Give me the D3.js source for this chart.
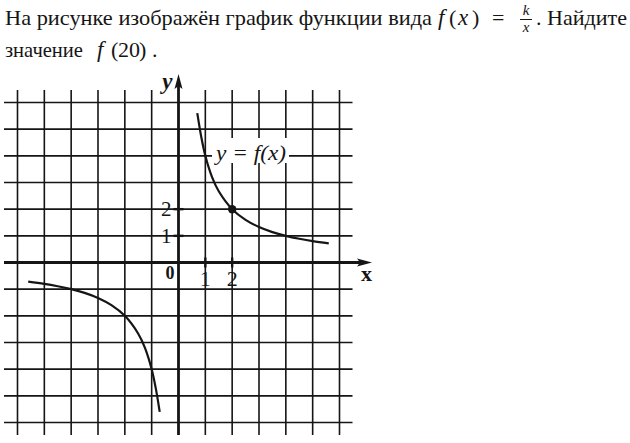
<!DOCTYPE html>
<html><head><meta charset="utf-8">
<script src="https://cdn.jsdelivr.net/npm/d3@7"></script>
<style>
html,body{margin:0;padding:0;background:#fff;}
svg{display:block;}
</style></head>
<body>
<svg id="c" width="630" height="443"></svg>
<script>
// ---- data ----
const gridTicksX = [-6,-5,-4,-3,-2,-1,1,2,3,4,5,6];
const gridTicksY = [-6,-5,-4,-3,-2,-1,1,2,3,4,5,6];
const axisTickValues = [1, 2];
const axisTickLabels = ["1", "2"];
const rightBranchX = [0.7, 0.85, 1, 1.25, 1.5, 2, 2.5, 3, 3.5, 4, 4.5, 5, 5.6];
const rightBranchY = [5.6, 4.7, 4, 3.2, 2.67, 2, 1.6, 1.33, 1.14, 1, 0.89, 0.8, 0.72];
const leftBranchX = [-5.6, -5, -4.5, -4, -3.5, -3, -2.5, -2, -1.5, -1.25, -1, -0.85, -0.7];
const leftBranchY = [-0.72, -0.8, -0.89, -1, -1.14, -1.33, -1.6, -2, -2.67, -3.2, -4, -4.7, -5.6];
const markedPointX = [2];
const markedPointY = [2];
const curveLabel = "y = f(x)";

const svg = d3.select("#c");
const ink = "#151515";

// ---- question text ----
const serif = "'Liberation Serif', 'Times New Roman', serif";
const fs = 22;
function txt(x, y, s, opts={}) {
  const t = svg.append("text").attr("x", x).attr("y", y)
    .attr("font-family", serif).attr("font-size", opts.size||fs)
    .attr("font-style", opts.italic?"italic":"normal")
    .attr("font-weight", opts.bold?"bold":"normal")
    .attr("text-anchor", opts.anchor||"start")
    .attr("fill", ink).text(s);
  if (opts.len) t.attr("textLength", opts.len).attr("lengthAdjust", "spacingAndGlyphs");
  return t;
}
const l1 = 25, l2 = 57;
txt(5, l1, "На рисунке изображён график функции вида", {len: 427});
txt(438, l1, "f", {italic:true, size:23});
txt(449, l1, "(");
txt(458, l1, "x", {italic:true, size:23});
txt(472, l1, ")");
txt(492, l1, "=");
txt(526, 15, "k", {italic:true, size:15, anchor:"middle"});
svg.append("line").attr("x1",520).attr("x2",532).attr("y1",19.5).attr("y2",19.5).attr("stroke",ink).attr("stroke-width",1);
txt(526, 32, "x", {italic:true, size:15, anchor:"middle"});
txt(536, l1, ".");
txt(547, l1, "Найдите", {len: 80});

txt(5, l2, "значение", {len: 78});
txt(97, l2, "f", {italic:true, size:23});
txt(111, l2, "(");
txt(118, l2, "20");
txt(139, l2, ")");
txt(152, l2, ".");

// ---- scales ----
const x = d3.scaleLinear().domain([-6, 6]).range([17.5, 339.5]);
const y = d3.scaleLinear().domain([-6, 6]).range([422.5, 102.5]);
const gx0 = x.invert(4), gx1 = x.invert(352.5);
const gy0 = y.invert(435), gy1 = y.invert(90);

// ---- grid ----
const grid = svg.append("g").attr("stroke", ink).attr("stroke-width", 1.6);
grid.selectAll("line.v").data(gridTicksX).join("line")
  .attr("x1", d => x(d)).attr("x2", d => x(d))
  .attr("y1", y(gy0)).attr("y2", y(gy1));
grid.selectAll("line.h").data(gridTicksY).join("line")
  .attr("y1", d => y(d)).attr("y2", d => y(d))
  .attr("x1", x(gx0)).attr("x2", x(gx1));

// ---- axes ----
const axW = 2.8;
svg.append("line").attr("x1", x(gx0)).attr("x2", 362).attr("y1", y(0)).attr("y2", y(0))
  .attr("stroke", ink).attr("stroke-width", axW);
svg.append("path").attr("d", `M${372},${y(0)} L${357},${y(0)-4} L${360},${y(0)} L${357},${y(0)+4} Z`).attr("fill", ink);
svg.append("line").attr("x1", x(0)).attr("x2", x(0)).attr("y1", y(gy0)).attr("y2", 84)
  .attr("stroke", ink).attr("stroke-width", axW);
svg.append("path").attr("d", `M${x(0)},74 L${x(0)-4},89 L${x(0)},86 L${x(0)+4},89 Z`).attr("fill", ink);

// ticks
svg.selectAll("line.tx").data(axisTickValues).join("line")
  .attr("x1", d => x(d)).attr("x2", d => x(d)).attr("y1", y(0)-5).attr("y2", y(0)+5)
  .attr("stroke", ink).attr("stroke-width", 2.4);
svg.selectAll("line.ty").data(axisTickValues).join("line")
  .attr("y1", d => y(d)).attr("y2", d => y(d)).attr("x1", x(0)-5).attr("x2", x(0)+5)
  .attr("stroke", ink).attr("stroke-width", 2.4);

// tick labels
svg.selectAll("text.lx").data(axisTickValues).join("text")
  .attr("x", d => x(d)).attr("y", y(0)+23).attr("text-anchor", "middle")
  .attr("font-family", serif).attr("font-size", 22).attr("fill", ink)
  .text((d,i) => axisTickLabels[i]);
svg.selectAll("text.ly").data(axisTickValues).join("text")
  .attr("x", x(0)-7).attr("y", d => y(d)+7).attr("text-anchor", "end")
  .attr("font-family", serif).attr("font-size", 21).attr("fill", ink)
  .text((d,i) => axisTickLabels[i]);
txt(x(0)-4, y(0)+16, "0", {bold:true, size:18, anchor:"end"});
txt(372, y(0)+18, "x", {bold:true, size:22, anchor:"end"});
txt(x(0)-6, 89, "y", {bold:true, italic:true, size:23, anchor:"end"});

// ---- curves ----
const line = d3.line().x(d => x(d[0])).y(d => y(d[1])).curve(d3.curveCatmullRom.alpha(0.5));
svg.append("path").datum(rightBranchX.map((v,i)=>[v,rightBranchY[i]]))
  .attr("d", line).attr("fill","none").attr("stroke", ink).attr("stroke-width", 2.2);
svg.append("path").datum(leftBranchX.map((v,i)=>[v,leftBranchY[i]]))
  .attr("d", line).attr("fill","none").attr("stroke", ink).attr("stroke-width", 2.2);

svg.selectAll("circle.pt").data(markedPointX).join("circle")
  .attr("cx", d => x(d)).attr("cy", (d,i) => y(markedPointY[i])).attr("r", 4.2).attr("fill", ink);

// ---- curve label with white background ----
svg.append("rect").attr("x", 212).attr("y", 138).attr("width", 77).attr("height", 25).attr("fill", "#fff");
txt(216, 160, curveLabel, {italic:true, size:21, len: 70});
</script>
</body></html>
